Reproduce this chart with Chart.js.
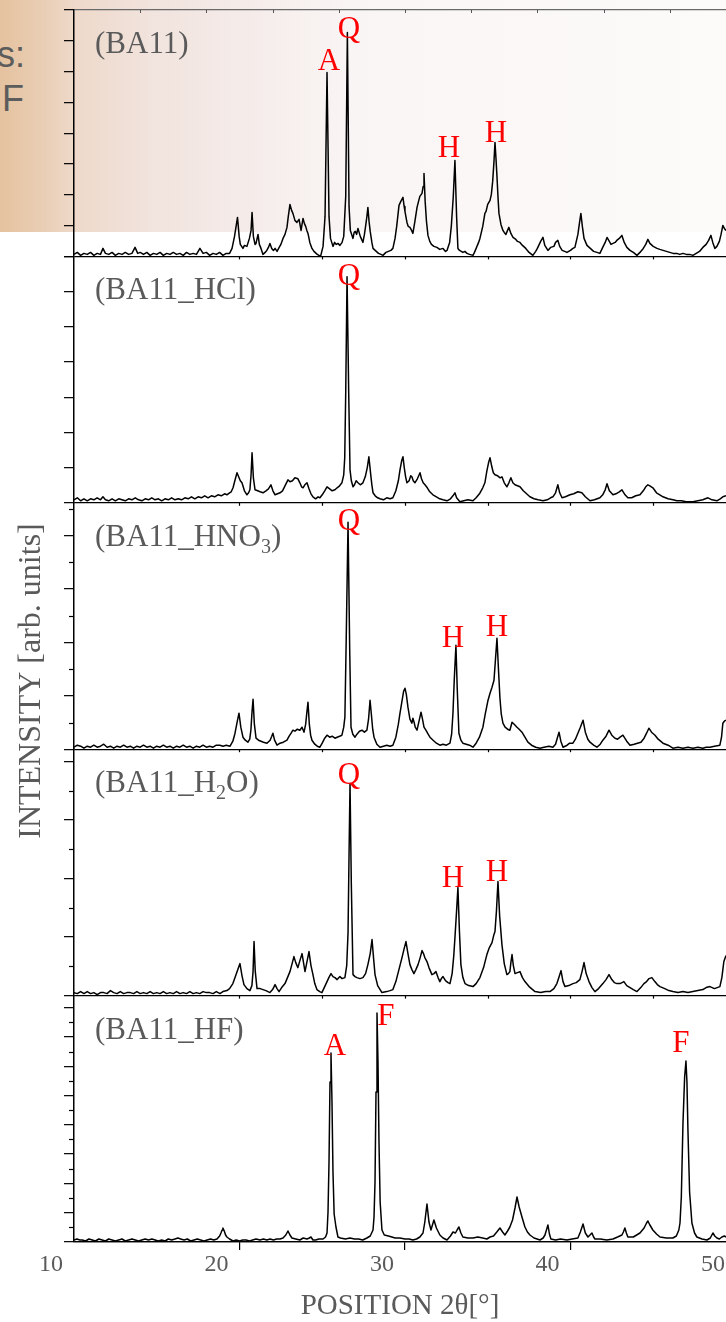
<!DOCTYPE html>
<html><head><meta charset="utf-8">
<script src="https://cdn.jsdelivr.net/npm/chart.js@4.4.1/dist/chart.umd.min.js"></script>
<style>
html,body{margin:0;padding:0;background:#fff;overflow:hidden;}
#wrap{position:relative;width:726px;height:1322px;overflow:hidden;background:#fff;}
#bg{position:absolute;left:0;top:0;width:726px;height:232px;
 background:linear-gradient(to right,#e5c29f 0px,#e9cdb3 40px,#eed9ca 75px,#f1e3dd 150px,#f5ecea 250px,#f9f5f4 350px,#fcfbfa 726px);}
.slide{position:absolute;right:701px;font-family:"Liberation Sans",Arial,sans-serif;font-size:36px;line-height:36px;color:#5c5c5c;white-space:nowrap;text-align:right;}
canvas{position:absolute;left:0;top:0;}
</style></head><body>
<div id="wrap">
<div id="bg"></div>
<div class="slide" style="top:37px">s:</div>
<div class="slide" style="top:81px;right:702px">F</div>
<canvas id="c" width="726" height="1322"></canvas>
</div>
<script>
// ---------------- data: [2θ (deg), intensity (arb. units)] ----------------
const X_TICKS = [10, 20, 30, 40, 50];
const X_TITLE = 'POSITION 2θ[°]';
const Y_TITLE = 'INTENSITY [arb. units]';
const PANEL_MAX = 246.4;

const BA11 = [[10.0,2],[10.2,4],[10.4,1],[10.6,3],[10.8,2],[11.0,4],[11.2,1],[11.4,3],[11.6,2],[11.75,8],[11.9,3],[12.1,2],[12.3,4],[12.5,1],[12.7,3],[12.9,2],[13.1,4],[13.3,2],[13.5,3],[13.69,9],[13.85,3],[14.0,4],[14.2,2],[14.4,4],[14.6,1],[14.8,3],[15.0,2],[15.2,4],[15.4,1],[15.6,3],[15.8,2],[16.0,4],[16.2,2],[16.4,3],[16.6,1],[16.8,4],[17.0,2],[17.2,3],[17.4,2],[17.61,8],[17.8,3],[18.0,4],[18.2,1],[18.4,3],[18.6,2],[18.8,4],[19.0,1],[19.2,3],[19.4,3],
[19.55,8],[19.7,20],[19.88,39],[19.98,20],[20.05,12],[20.21,8],[20.3,11],[20.45,10],[20.6,18],[20.7,26],[20.76,44],[20.84,20],[20.94,12],[21.0,13],[21.12,22],[21.2,12],[21.3,8],[21.42,2],[21.55,4],[21.65,6],[21.75,9],[21.84,13],[21.95,8],[22.05,6],[22.15,8],[22.27,5],[22.4,9],[22.5,12],[22.63,18],[22.75,22],[22.87,29],[22.95,40],[23.05,52],[23.15,46],[23.23,43],[23.35,36],[23.47,34],[23.6,37],[23.72,26],[23.84,38],[23.92,33],[24.0,30],[24.07,26],[24.14,23],[24.25,14],[24.38,8],[24.5,5],[24.7,2],[24.9,0],[25.05,10],[25.17,40],[25.29,184],[25.41,40],[25.5,18],[25.65,10],[25.75,14],[25.85,12],[25.95,13],[26.07,11],[26.2,14],[26.3,20],[26.42,60],[26.52,224],[26.62,50],[26.7,26],[26.78,22],[26.86,18],[26.93,24],[27.0,25],[27.08,22],[27.16,28],[27.23,24],[27.3,20],[27.38,17],[27.46,14],[27.55,22],[27.62,30],[27.7,40],[27.76,49],[27.83,35],[27.9,25],[28.0,14],[28.07,8],[28.2,6],[28.4,3],[28.55,2],[28.67,1],[28.85,4],[29.0,5],[29.15,6],[29.27,8],[29.4,18],[29.5,30],[29.64,51],[29.75,55],[29.88,59],[29.95,50],[30.0,45],[30.12,34],[30.2,30],[30.3,29],[30.4,26],[30.48,23],[30.6,35],[30.73,49],[30.82,55],[30.9,60],[31.03,63],[31.1,70],[31.15,83],[31.22,55],[31.3,35],[31.39,21],[31.5,15],[31.6,12],[31.75,10],[31.93,9],[32.1,7],[32.3,8],[32.45,5],[32.54,6],[32.7,14],[32.8,30],[32.92,60],[33.02,96],[33.12,40],[33.2,8],[33.3,6],[33.5,4],[33.62,5],[33.75,3],[33.9,2],[34.11,1],[34.2,4],[34.3,8],[34.45,14],[34.53,18],[34.7,30],[34.83,43],[34.9,45],[35.0,52],[35.14,56],[35.22,62],[35.3,75],[35.38,95],[35.44,114],[35.5,98],[35.56,80],[35.62,60],[35.68,43],[35.8,32],[35.92,26],[36.0,24],[36.1,22],[36.2,26],[36.28,29],[36.4,23],[36.53,19],[36.7,17],[36.8,15],[36.95,14],[37.1,11],[37.3,8],[37.5,4],[37.73,1],[37.9,5],[38.0,8],[38.2,15],[38.34,19],[38.45,11],[38.64,6],[38.8,9],[39.0,10],[39.1,14],[39.24,16],[39.35,10],[39.5,6],[39.65,5],[39.79,4],[40.0,6],[40.15,8],[40.27,9],[40.45,22],[40.55,34],[40.63,43],[40.72,30],[40.82,18],[41.0,11],[41.2,8],[41.4,5],[41.6,4],[41.78,3],[41.95,9],[42.1,14],[42.21,19],[42.35,15],[42.45,12],[42.57,13],[42.7,14],[42.8,16],[42.95,18],[43.11,21],[43.25,14],[43.41,9],[43.6,6],[43.8,4],[44.02,1],[44.2,4],[44.4,8],[44.55,12],[44.68,17],[44.8,13],[45.0,10],[45.23,8],[45.4,7],[45.6,6],[45.8,5],[46.0,4],[46.2,3],[46.43,3],[46.6,2],[46.8,3],[47.0,2],[47.2,2],[47.4,1],[47.6,3],[47.8,5],[48.0,9],[48.2,12],[48.35,16],[48.49,21],[48.6,14],[48.73,8],[48.85,10],[49.0,15],[49.1,22],[49.21,31],[49.3,28],[49.4,26],[49.6,30]];

const BA11_HCL = [[10.0,3],[10.2,5],[10.4,2],[10.6,4],[10.8,2],[11.0,4],[11.2,3],[11.4,5],[11.6,3],[11.75,6],[11.9,3],[12.1,2],[12.3,4],[12.5,2],[12.7,4],[12.9,3],[13.1,2],[13.3,4],[13.5,3],[13.7,5],[13.9,3],[14.1,2],[14.3,4],[14.5,3],[14.7,5],[14.9,3],[15.1,4],[15.3,2],[15.5,4],[15.7,3],[15.9,5],[16.1,3],[16.3,4],[16.5,3],[16.7,5],[16.9,4],[17.1,6],[17.3,4],[17.5,6],[17.7,5],[17.9,7],[18.1,5],[18.3,7],[18.5,6],[18.7,8],[18.9,7],[19.1,9],[19.24,8],[19.4,10],[19.5,11],[19.61,15],[19.72,22],[19.85,30],[19.95,26],[20.05,22],[20.15,20],[20.3,12],[20.45,8],[20.55,10],[20.63,13],[20.7,28],[20.76,50],[20.84,25],[20.94,13],[21.1,12],[21.25,11],[21.42,10],[21.6,12],[21.75,14],[21.9,18],[22.02,12],[22.15,8],[22.3,9],[22.45,10],[22.6,12],[22.75,17],[22.93,23],[23.05,21],[23.2,22],[23.35,25],[23.53,24],[23.65,20],[23.75,16],[23.84,15],[23.95,18],[24.08,20],[24.2,14],[24.32,9],[24.44,6],[24.6,4],[24.75,6],[24.86,5],[25.0,8],[25.15,12],[25.29,16],[25.45,14],[25.6,12],[25.77,13],[25.9,15],[26.05,17],[26.19,20],[26.3,28],[26.36,45],[26.42,110],[26.5,226],[26.6,110],[26.68,33],[26.76,22],[26.86,16],[26.95,18],[27.05,22],[27.16,20],[27.3,18],[27.46,20],[27.6,26],[27.72,35],[27.82,46],[27.92,30],[28.0,18],[28.07,10],[28.2,7],[28.35,5],[28.49,4],[28.7,3],[28.9,5],[29.1,4],[29.27,5],[29.45,12],[29.6,22],[29.7,33],[29.8,42],[29.88,46],[29.96,35],[30.04,26],[30.12,20],[30.25,22],[30.35,27],[30.42,26],[30.5,22],[30.6,20],[30.75,24],[30.91,30],[31.0,24],[31.1,20],[31.21,18],[31.35,15],[31.5,11],[31.69,8],[31.9,6],[32.1,4],[32.3,3],[32.54,2],[32.75,4],[32.9,7],[33.02,10],[33.12,5],[33.32,1],[33.55,2],[33.8,3],[34.11,2],[34.3,5],[34.5,9],[34.7,15],[34.83,20],[34.95,32],[35.05,40],[35.14,45],[35.25,36],[35.34,30],[35.44,28],[35.6,27],[35.75,25],[35.86,26],[36.0,20],[36.16,16],[36.28,20],[36.4,25],[36.52,20],[36.65,18],[36.8,17],[36.95,16],[37.15,12],[37.35,9],[37.55,6],[37.8,4],[38.05,3],[38.34,2],[38.6,3],[38.8,5],[38.94,6],[39.1,10],[39.24,18],[39.35,10],[39.49,5],[39.7,6],[39.97,8],[40.2,9],[40.45,11],[40.69,10],[40.9,6],[41.18,2],[41.45,3],[41.78,5],[41.95,8],[42.1,13],[42.21,19],[42.35,12],[42.57,8],[42.75,9],[42.95,11],[43.11,13],[43.3,8],[43.47,5],[43.7,5],[43.95,7],[44.2,8],[44.4,12],[44.55,16],[44.68,18],[44.8,17],[44.98,15],[45.2,10],[45.4,8],[45.59,6],[45.9,4],[46.2,3],[46.43,2],[46.7,2],[47.0,1],[47.4,1],[47.7,2],[48.0,3],[48.15,4],[48.31,5],[48.55,3],[48.85,2],[49.05,4],[49.21,6],[49.4,7],[49.6,8]];

const BA11_HNO3 = [[10.0,2],[10.2,4],[10.4,3],[10.6,1],[10.8,3],[11.0,2],[11.2,4],[11.4,2],[11.6,3],[11.8,5],[12.0,2],[12.2,3],[12.4,1],[12.6,3],[12.8,2],[13.0,4],[13.2,2],[13.4,3],[13.6,1],[13.8,3],[14.0,2],[14.2,4],[14.4,2],[14.6,3],[14.8,1],[15.0,3],[15.2,2],[15.4,4],[15.6,2],[15.8,3],[16.0,1],[16.2,3],[16.4,2],[16.6,4],[16.8,2],[17.0,3],[17.2,1],[17.4,3],[17.6,2],[17.8,4],[18.0,2],[18.2,3],[18.4,2],[18.6,4],[18.82,4],[19.0,3],[19.2,4],[19.43,3],[19.6,8],[19.73,16],[19.87,28],[19.97,36],[20.08,22],[20.21,12],[20.35,9],[20.51,7],[20.62,10],[20.69,19],[20.76,38],[20.82,50],[20.9,25],[21.0,11],[21.15,9],[21.3,8],[21.45,7],[21.66,6],[21.85,9],[21.95,13],[22.02,16],[22.12,9],[22.27,4],[22.45,6],[22.65,7],[22.87,9],[23.0,13],[23.12,16],[23.23,19],[23.35,18],[23.5,20],[23.65,19],[23.78,22],[23.9,17],[24.0,25],[24.08,38],[24.14,47],[24.22,25],[24.3,14],[24.38,9],[24.55,5],[24.7,3],[24.86,2],[25.0,6],[25.15,11],[25.29,14],[25.45,12],[25.6,13],[25.77,11],[25.9,12],[26.05,13],[26.19,14],[26.3,22],[26.37,32],[26.45,110],[26.56,227],[26.66,100],[26.74,22],[26.85,15],[26.98,12],[27.1,15],[27.25,18],[27.4,19],[27.55,17],[27.7,19],[27.8,30],[27.89,49],[27.98,33],[28.05,20],[28.13,12],[28.3,5],[28.49,2],[28.7,3],[28.9,4],[29.1,3],[29.27,4],[29.45,12],[29.6,25],[29.7,36],[29.82,48],[29.92,58],[30.0,61],[30.08,55],[30.18,42],[30.3,30],[30.42,26],[30.48,31],[30.55,27],[30.62,22],[30.73,19],[30.85,28],[30.97,37],[31.06,30],[31.15,22],[31.3,18],[31.4,15],[31.51,12],[31.7,9],[31.9,6],[32.11,4],[32.3,5],[32.5,4],[32.72,6],[32.82,15],[32.9,36],[32.98,70],[33.08,104],[33.16,60],[33.26,16],[33.38,9],[33.5,6],[33.7,5],[33.9,4],[34.11,2],[34.3,6],[34.5,12],[34.71,22],[34.85,35],[35.02,49],[35.14,56],[35.26,62],[35.38,69],[35.47,90],[35.56,111],[35.65,80],[35.74,51],[35.82,35],[35.92,26],[36.05,22],[36.2,20],[36.34,19],[36.47,27],[36.6,25],[36.77,22],[36.9,20],[37.07,17],[37.25,12],[37.43,7],[37.65,4],[37.9,2],[38.16,1],[38.4,2],[38.7,3],[38.94,2],[39.1,5],[39.22,12],[39.31,17],[39.42,8],[39.55,2],[39.8,4],[39.95,6],[40.15,6],[40.3,10],[40.45,16],[40.6,22],[40.76,29],[40.9,17],[41.05,10],[41.18,7],[41.4,4],[41.6,2],[41.8,5],[41.96,9],[42.15,13],[42.33,19],[42.5,14],[42.69,11],[42.85,10],[43.0,12],[43.17,14],[43.4,8],[43.6,4],[43.85,5],[44.05,6],[44.26,7],[44.45,11],[44.6,16],[44.74,21],[44.9,17],[45.11,14],[45.3,10],[45.59,6],[45.9,4],[46.19,1],[46.5,2],[46.8,1],[47.1,2],[47.4,1],[47.7,2],[48.0,1],[48.2,2],[48.43,2],[48.7,3],[49.03,4],[49.13,12],[49.21,26],[49.3,28],[49.4,29],[49.6,40]];

const BA11_H2O = [[10.0,3],[10.2,2],[10.4,4],[10.6,2],[10.8,4],[11.0,2],[11.2,3],[11.4,1],[11.6,3],[11.8,3],[12.0,2],[12.2,5],[12.4,3],[12.6,2],[12.8,4],[13.0,2],[13.2,3],[13.4,3],[13.6,2],[13.8,4],[14.0,2],[14.2,3],[14.4,2],[14.6,4],[14.8,2],[15.0,3],[15.2,2],[15.4,4],[15.6,2],[15.8,3],[16.0,2],[16.2,4],[16.4,2],[16.6,3],[16.8,2],[17.0,4],[17.2,2],[17.4,3],[17.6,2],[17.8,4],[18.0,3],[18.2,3],[18.4,2],[18.6,4],[18.82,2],[19.0,4],[19.24,5],[19.4,7],[19.6,12],[19.73,18],[19.9,26],[20.03,32],[20.15,20],[20.27,11],[20.45,7],[20.63,5],[20.75,10],[20.82,24],[20.88,54],[20.95,25],[21.06,7],[21.25,7],[21.42,6],[21.6,5],[21.84,3],[22.0,6],[22.15,11],[22.27,7],[22.39,4],[22.55,8],[22.75,12],[22.9,18],[23.05,24],[23.18,32],[23.29,39],[23.4,33],[23.53,28],[23.65,35],[23.78,42],[23.87,33],[23.96,24],[24.08,34],[24.2,44],[24.32,30],[24.44,21],[24.55,12],[24.68,6],[24.85,4],[24.98,3],[25.15,9],[25.29,14],[25.4,18],[25.53,22],[25.65,19],[25.77,18],[25.9,16],[26.07,19],[26.2,17],[26.37,18],[26.48,30],[26.56,63],[26.62,140],[26.68,212],[26.76,110],[26.86,21],[26.98,19],[27.1,18],[27.28,17],[27.46,18],[27.62,22],[27.76,31],[27.9,42],[28.01,56],[28.1,38],[28.19,21],[28.35,10],[28.61,3],[28.9,4],[29.1,5],[29.27,6],[29.45,14],[29.62,25],[29.82,38],[29.95,47],[30.06,54],[30.18,42],[30.3,31],[30.42,26],[30.54,22],[30.66,26],[30.79,31],[30.92,38],[31.03,45],[31.12,42],[31.2,38],[31.33,34],[31.45,28],[31.63,21],[31.75,22],[31.87,24],[32.0,18],[32.11,14],[32.2,17],[32.3,19],[32.45,15],[32.6,13],[32.72,12],[32.85,22],[32.95,40],[33.02,58],[33.12,85],[33.2,108],[33.29,65],[33.38,31],[33.5,18],[33.63,12],[33.85,10],[34.11,9],[34.3,12],[34.53,18],[34.75,28],[34.95,41],[35.1,48],[35.26,53],[35.36,60],[35.44,64],[35.53,85],[35.62,114],[35.72,80],[35.86,51],[36.0,32],[36.16,21],[36.25,22],[36.34,24],[36.4,33],[36.47,41],[36.55,30],[36.65,22],[36.8,23],[36.95,24],[37.1,18],[37.25,14],[37.5,9],[37.86,4],[38.2,3],[38.5,4],[38.76,4],[39.0,7],[39.18,12],[39.3,18],[39.43,25],[39.55,14],[39.67,9],[39.9,10],[40.15,12],[40.35,13],[40.57,16],[40.7,24],[40.82,33],[40.95,22],[41.12,14],[41.3,8],[41.48,4],[41.7,7],[41.96,12],[42.15,16],[42.33,21],[42.5,16],[42.65,13],[42.81,12],[43.0,12],[43.23,14],[43.4,10],[43.6,8],[43.8,6],[44.02,4],[44.25,8],[44.44,12],[44.6,14],[44.75,17],[44.92,18],[45.1,14],[45.25,11],[45.41,9],[45.7,7],[45.95,5],[46.19,4],[46.5,3],[46.8,4],[47.1,3],[47.4,4],[47.7,5],[48.0,6],[48.2,8],[48.43,9],[48.7,7],[49.03,9],[49.15,18],[49.27,34],[49.4,40],[49.6,55]];

const BA11_HF = [[10.0,2],[10.18,3],[10.35,2],[10.5,2],[10.7,1],[10.9,3],[11.1,2],[11.3,1],[11.5,3],[11.7,2],[11.9,1],[12.1,3],[12.3,2],[12.5,1],[12.7,2],[12.9,3],[13.1,1],[13.3,2],[13.5,3],[13.7,2],[13.9,1],[14.1,2],[14.3,3],[14.5,2],[14.71,3],[14.9,2],[15.1,1],[15.3,2],[15.5,1],[15.7,3],[15.9,2],[16.1,3],[16.28,4],[16.45,3],[16.65,2],[16.85,3],[17.05,1],[17.25,2],[17.45,3],[17.65,2],[17.85,1],[18.05,2],[18.25,3],[18.45,2],[18.64,3],[18.8,6],[18.88,9],[18.95,12],[19.0,14],[19.08,11],[19.16,7],[19.24,5],[19.4,3],[19.61,1],[19.8,2],[20.0,1],[20.2,2],[20.4,2],[20.6,1],[20.8,2],[21.0,3],[21.24,2],[21.45,3],[21.65,2],[21.85,3],[22.05,2],[22.25,3],[22.45,3],[22.63,4],[22.8,7],[22.93,11],[23.05,7],[23.17,4],[23.4,3],[23.65,2],[23.85,4],[24.08,3],[24.22,4],[24.32,5],[24.44,2],[24.6,2],[24.8,3],[25.05,3],[25.2,5],[25.29,9],[25.35,30],[25.41,80],[25.47,160],[25.53,189],[25.59,140],[25.65,70],[25.72,28],[25.83,15],[25.95,5],[26.1,4],[26.4,3],[26.68,4],[26.95,3],[27.2,3],[27.45,2],[27.7,4],[27.9,6],[28.07,12],[28.13,25],[28.19,60],[28.25,150],[28.31,229],[28.37,180],[28.43,100],[28.5,40],[28.61,12],[28.75,7],[29.0,6],[29.21,5],[29.4,4],[29.7,4],[30.0,3],[30.25,3],[30.48,2],[30.7,3],[30.9,5],[31.09,9],[31.2,20],[31.33,38],[31.45,20],[31.57,12],[31.66,17],[31.75,22],[31.9,14],[32.11,7],[32.3,4],[32.54,2],[32.75,6],[32.9,10],[33.05,9],[33.15,12],[33.26,15],[33.38,9],[33.5,5],[33.8,4],[34.11,4],[34.4,5],[34.7,4],[34.95,3],[35.14,5],[35.35,6],[35.55,10],[35.74,14],[35.9,10],[36.04,7],[36.2,11],[36.34,15],[36.5,22],[36.65,34],[36.77,45],[36.9,35],[37.07,25],[37.25,15],[37.4,10],[37.55,7],[37.8,4],[38.16,2],[38.35,4],[38.46,7],[38.55,12],[38.64,17],[38.73,8],[38.82,3],[39.1,2],[39.4,3],[39.79,2],[40.1,3],[40.45,4],[40.6,10],[40.76,18],[40.9,9],[41.06,5],[41.18,7],[41.3,9],[41.4,5],[41.48,3],[41.8,3],[42.2,2],[42.57,3],[42.85,5],[43.11,7],[43.2,10],[43.29,14],[43.38,9],[43.47,5],[43.8,5],[44.0,7],[44.2,9],[44.45,14],[44.6,19],[44.68,21],[44.8,17],[44.98,12],[45.2,8],[45.41,5],[45.8,4],[46.19,4],[46.4,6],[46.55,12],[46.62,19],[46.7,45],[46.8,119],[46.9,165],[46.98,181],[47.04,160],[47.1,112],[47.2,50],[47.34,19],[47.5,9],[47.64,5],[47.95,3],[48.25,2],[48.45,4],[48.61,9],[48.72,6],[48.85,4],[49.0,3],[49.15,5],[49.3,6],[49.4,5],[49.6,4]];

// y tick positions of each panel (arb. units), major and minor
const TICKS_BA11 = [0,30.8,61.6,92.4,123.2,154,184.8,215.6,246.4];
const TICKS_HCL  = [0,35.2,70.4,105.6,140.8,176,211.2,246.4];
const TICKS_HNO3 = [0,53.4,106.8,160.2,213.6];
const TICKS_H2O  = [0,58.6,117.2,175.8,234.4];
const TICKS_HF   = [0,29.3,58.6,87.9,117.2,146.5,175.8,205.1,234.4];
const MINOR_BA11 = [];
const MINOR_HCL  = [];
const MINOR_HNO3 = [26.7,80.1,133.5,186.9,240.3];
const MINOR_H2O  = [29.3,87.9,146.5,205.1];
const MINOR_HF   = [14.65,43.95,73.25,102.55,131.85,161.15,190.45,219.75];

// panel names: [text, subscript?]
const NAME_BA11 = [['(BA11)',0]];
const NAME_HCL  = [['(BA11_HCl)',0]];
const NAME_HNO3 = [['(BA11_HNO',0],['3',1],[')',0]];
const NAME_H2O  = [['(BA11_H',0],['2',1],['O)',0]];
const NAME_HF   = [['(BA11_HF)',0]];

// phase marks (A, Q, H, F) and where they sit (2θ, intensity)
const PK_TEXT_BA11 = ['A','Q','H','H'];   const PK_X_BA11 = [25.41,26.62,32.66,35.50]; const PK_Y_BA11 = [186,218,99,114];
const PK_TEXT_HCL  = ['Q'];               const PK_X_HCL  = [26.62];                   const PK_Y_HCL  = [218];
const PK_TEXT_HNO3 = ['Q','H','H'];       const PK_X_HNO3 = [26.62,32.90,35.56];       const PK_Y_HNO3 = [219,102,113];
const PK_TEXT_H2O  = ['Q','H','H'];       const PK_X_H2O  = [26.62,32.90,35.56];       const PK_Y_H2O  = [212,109,115];
const PK_TEXT_HF   = ['A','F','F'];       const PK_X_HF   = [25.77,28.85,46.68];       const PK_Y_HF   = [187,217,190];

const TOP_TICKS = [14,18,22,26,30,34,38,42,46];
const EDGE_TICKS = [20,25,30,35,40,45];

// ---------------- build ----------------
const SERIF = '"Liberation Serif","Times New Roman",serif';
const GRAY = '#5a5a5a';
const PANELS = [
  {key:'yBA11', data:BA11,      ticks:TICKS_BA11, minor:MINOR_BA11, name:NAME_BA11, pt:PK_TEXT_BA11, px:PK_X_BA11, py:PK_Y_BA11},
  {key:'yHCl',  data:BA11_HCL,  ticks:TICKS_HCL,  minor:MINOR_HCL,  name:NAME_HCL,  pt:PK_TEXT_HCL,  px:PK_X_HCL,  py:PK_Y_HCL},
  {key:'yHNO3', data:BA11_HNO3, ticks:TICKS_HNO3, minor:MINOR_HNO3, name:NAME_HNO3, pt:PK_TEXT_HNO3, px:PK_X_HNO3, py:PK_Y_HNO3},
  {key:'yH2O',  data:BA11_H2O,  ticks:TICKS_H2O,  minor:MINOR_H2O,  name:NAME_H2O,  pt:PK_TEXT_H2O,  px:PK_X_H2O,  py:PK_Y_H2O},
  {key:'yHF',   data:BA11_HF,   ticks:TICKS_HF,   minor:MINOR_HF,   name:NAME_HF,   pt:PK_TEXT_HF,   px:PK_X_HF,   py:PK_Y_HF}
];

const scales = {
  x: {
    type:'linear', min:10, max:49.4,
    afterBuildTicks: s => { s.ticks = X_TICKS.map(v => ({value:v})); },
    ticks: {autoSkip:false, maxRotation:0, minRotation:0, labelOffset:-23, padding:0, color:GRAY,
            font:{family:SERIF, size:24}},
    grid: {drawOnChartArea:false, drawTicks:true, tickLength:8, lineWidth:1.2,
           tickColor: c => (c.tick && c.tick.value === 10) ? 'rgba(0,0,0,0)' : '#000'},
    border: {display:true, color:'#000', width:1.3},
    title: {display:true, text:X_TITLE, color:GRAY, font:{family:SERIF, size:29, lineHeight:1.1}, padding:{top:0, bottom:0}},
    afterFit: s => { s.height = 80; s.paddingLeft = 0; s.paddingRight = 0; }
  }
};
PANELS.forEach((p, i) => {
  scales[p.key] = {
    type:'linear', position:'left', stack:'xrd', stackWeight:1, weight: PANELS.length - i,
    min:0, max:PANEL_MAX,
    afterBuildTicks: s => { s.ticks = p.ticks.map(v => ({value:v})); },
    ticks: {display:false},
    grid: {drawOnChartArea:true, drawTicks:true, tickLength:10, lineWidth:1.3, tickWidth:1.2,
           color: c => {
             if (!c.tick) return 'rgba(0,0,0,0)';
             if (c.tick.value === 0) return '#000';
             if (i === 0 && c.tick.value === PANEL_MAX) return '#6a6a6a';
             return 'rgba(0,0,0,0)';
           },
           tickColor:'#000'},
    border: {display:true, color:'#000', width:1.5},
    afterFit: s => { s.width = 74; s.paddingTop = 0; s.paddingBottom = 0; }
  };
});

const decor = {
  id:'decor',
  afterDatasetsDraw(chart) {
    const ctx = chart.ctx, xs = chart.scales.x;
    ctx.save();
    const top = chart.scales[PANELS[0].key];
    ctx.strokeStyle = '#555'; ctx.lineWidth = 1;
    TOP_TICKS.forEach(v => {
      const x = Math.round(xs.getPixelForValue(v)) + 0.5;
      ctx.beginPath(); ctx.moveTo(x, top.top); ctx.lineTo(x, top.top + 3); ctx.stroke();
    });
    PANELS.forEach((p, i) => {
      const ys = chart.scales[p.key];
      ctx.strokeStyle = '#000'; ctx.lineWidth = 1.2;
      p.minor.forEach(v => {
        const y = Math.round(ys.getPixelForValue(v)) + 0.5;
        ctx.beginPath(); ctx.moveTo(ys.right - 5, y); ctx.lineTo(ys.right, y); ctx.stroke();
      });
      if (i > 0) {
        EDGE_TICKS.forEach(v => {
          const x = Math.round(xs.getPixelForValue(v)) + 0.5;
          ctx.beginPath(); ctx.moveTo(x, ys.top); ctx.lineTo(x, ys.top + 3); ctx.stroke();
        });
      }
      let x = 95; const base = ys.top + 43;
      ctx.fillStyle = GRAY; ctx.textAlign = 'left'; ctx.textBaseline = 'alphabetic';
      p.name.forEach(([t, sub]) => {
        ctx.font = (sub ? '20px ' : '31px ') + SERIF;
        ctx.fillText(t, x, base + (sub ? 7 : 0));
        x += ctx.measureText(t).width;
      });
      ctx.font = '31px ' + SERIF; ctx.fillStyle = '#ff0000'; ctx.textAlign = 'center';
      p.pt.forEach((t, k) => {
        ctx.fillText(t, xs.getPixelForValue(p.px[k]), ys.getPixelForValue(p.py[k]));
      });
    });
    ctx.translate(31.5, 681); ctx.rotate(-Math.PI / 2);
    ctx.font = '32px ' + SERIF; ctx.fillStyle = GRAY; ctx.textAlign = 'center'; ctx.textBaseline = 'middle';
    ctx.fillText(Y_TITLE, 0, 0);
    ctx.restore();
  }
};

new Chart(document.getElementById('c'), {
  type:'line',
  data: {
    datasets: PANELS.map(p => ({
      label: p.key,
      data: p.data.map(([x, y]) => ({x, y})),
      yAxisID: p.key,
      borderColor:'#000', borderWidth:1.5, pointRadius:0, tension:0, fill:false,
      borderJoinStyle:'round'
    }))
  },
  options: {
    responsive:false, animation:false, devicePixelRatio:1,
    layout: {padding:{top:10, left:0, right:0, bottom:0}},
    plugins: {legend:{display:false}, tooltip:{enabled:false}},
    scales
  },
  plugins:[decor]
});
</script>
</body></html>
